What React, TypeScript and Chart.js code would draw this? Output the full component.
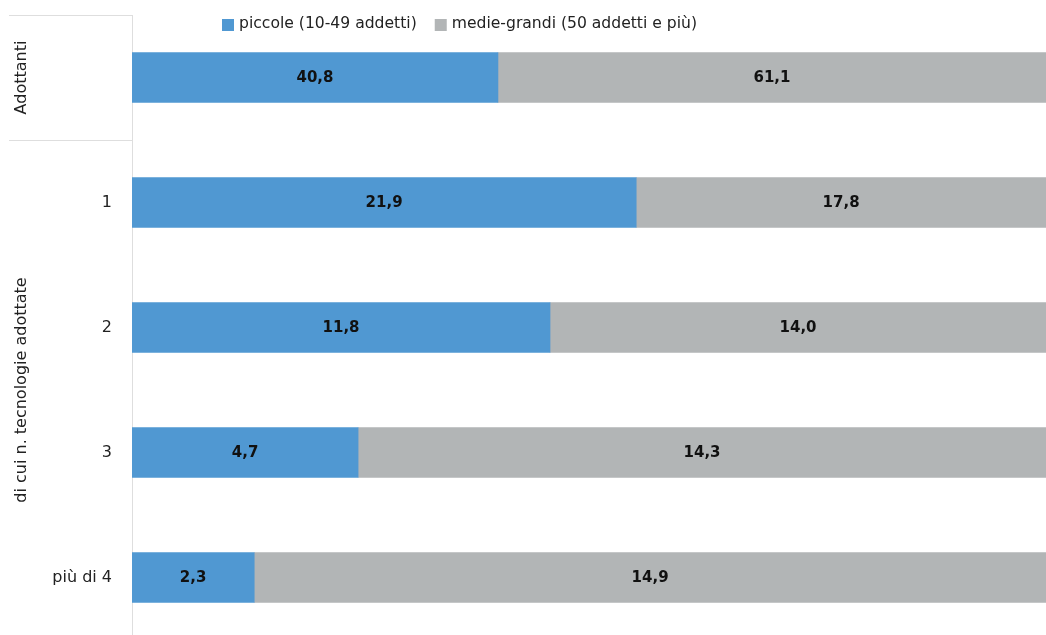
import React, { useEffect, useRef } from "react";
import { Chart, registerables } from "chart.js";

Chart.register(...registerables);

const categories = ["Adottanti", "1", "2", "3", "più di 4"];
const piccole = [40.8, 21.9, 11.8, 4.7, 2.3];
const medieGrandi = [61.1, 17.8, 14.0, 14.3, 14.9];
const seriesNames = ["piccole (10-49 addetti)", "medie-grandi (50 addetti e più)"];
const groupLabels = ["Adottanti", "di cui n. tecnologie adottate"];

const BLUE = "#5098d2";
const GREY = "#b2b5b6";
const LINE = "#dedede";
const FONT = "'DejaVu Sans', sans-serif";

const share = (a: number, b: number) => (a / (a + b)) * 100;
const piccoleShare = piccole.map((v, i) => share(v, medieGrandi[i]));
const grandiShare = medieGrandi.map((v, i) => share(v, piccole[i]));
const fmt = (v: number) => v.toFixed(1).replace(".", ",");

export default function App() {
  const ref = useRef<HTMLCanvasElement | null>(null);
  useEffect(() => {
    if (!ref.current) return;
    const raw = [piccole, medieGrandi];
    const decor = {
      id: "decor",
      afterDatasetsDraw(chart: any) {
        const ctx = chart.ctx;
        ctx.save();
        ctx.fillStyle = "#111";
        ctx.font = `bold 15px ${FONT}`;
        ctx.textAlign = "center";
        ctx.textBaseline = "middle";
        chart.data.datasets.forEach((_ds: any, di: number) => {
          const meta = chart.getDatasetMeta(di);
          meta.data.forEach((el: any, i: number) => {
            const x = (el.x + el.base) / 2;
            ctx.fillText(fmt(raw[di][i]), x, el.y + 1);
          });
        });
        ctx.restore();
      },
      afterDraw(chart: any) {
        const ctx = chart.ctx;
        const { top, bottom, left } = chart.chartArea;
        const ys = chart.scales.y;
        const y0 = ys.getPixelForValue(0);
        const sep = (y0 + ys.getPixelForValue(1)) / 2;
        ctx.save();
        ctx.strokeStyle = LINE;
        ctx.lineWidth = 1;
        ctx.beginPath();
        ctx.moveTo(9, Math.round(top) + 0.5);
        ctx.lineTo(left, Math.round(top) + 0.5);
        ctx.moveTo(9, Math.round(sep) + 0.5);
        ctx.lineTo(left, Math.round(sep) + 0.5);
        ctx.stroke();
        ctx.fillStyle = "#222";
        ctx.font = `16px ${FONT}`;
        ctx.textAlign = "center";
        ctx.textBaseline = "middle";
        const draw = (t: string, y: number) => {
          ctx.save();
          ctx.translate(22, y);
          ctx.rotate(-Math.PI / 2);
          ctx.fillText(t, 0, 0);
          ctx.restore();
        };
        draw(groupLabels[0], y0);
        draw(groupLabels[1], (sep + bottom) / 2);
        // legend
        let x = 222;
        const ly = 24;
        ctx.textAlign = "left";
        ctx.font = `15.6px ${FONT}`;
        [BLUE, GREY].forEach((c, i) => {
          ctx.fillStyle = c;
          ctx.fillRect(x, ly - 5, 12, 12);
          x += 17;
          ctx.fillStyle = "#222";
          ctx.fillText(seriesNames[i], x, ly);
          x += ctx.measureText(seriesNames[i]).width + 18;
        });
        ctx.restore();
      },
    };
    const chart = new Chart(ref.current, {
      type: "bar",
      data: {
        labels: categories,
        datasets: [
          { label: seriesNames[0], data: piccoleShare, backgroundColor: BLUE, barThickness: 50 },
          { label: seriesNames[1], data: grandiShare, backgroundColor: GREY, barThickness: 50 },
        ],
      },
      options: {
        indexAxis: "y",
        animation: false,
        responsive: false,
        maintainAspectRatio: false,
        layout: { padding: { top: 15, left: 0, right: 0, bottom: 0 } },
        plugins: { legend: { display: false }, tooltip: { enabled: false } },
        scales: {
          x: { stacked: true, min: 0, max: 100, display: false },
          y: {
            stacked: true,
            grid: { display: false, drawTicks: false },
            border: { display: true, color: LINE },
            afterFit: (s: any) => {
              s.width = 132;
              s.paddingTop = 0;
              s.paddingBottom = 0;
            },
            ticks: {
              padding: 20,
              color: "#222",
              font: { family: FONT, size: 16 },
              callback: (_v: any, i: number) => (i === 0 ? "" : categories[i]),
            },
          },
        },
      },
      plugins: [decor],
    });
    return () => chart.destroy();
  }, []);
  return (
    <div style={{ position: "fixed", top: 0, left: 0, width: 1046, height: 640, background: "#fff" }}>
      <canvas ref={ref} width={1046} height={640} style={{ display: "block", width: 1046, height: 640 }} />
    </div>
  );
}
